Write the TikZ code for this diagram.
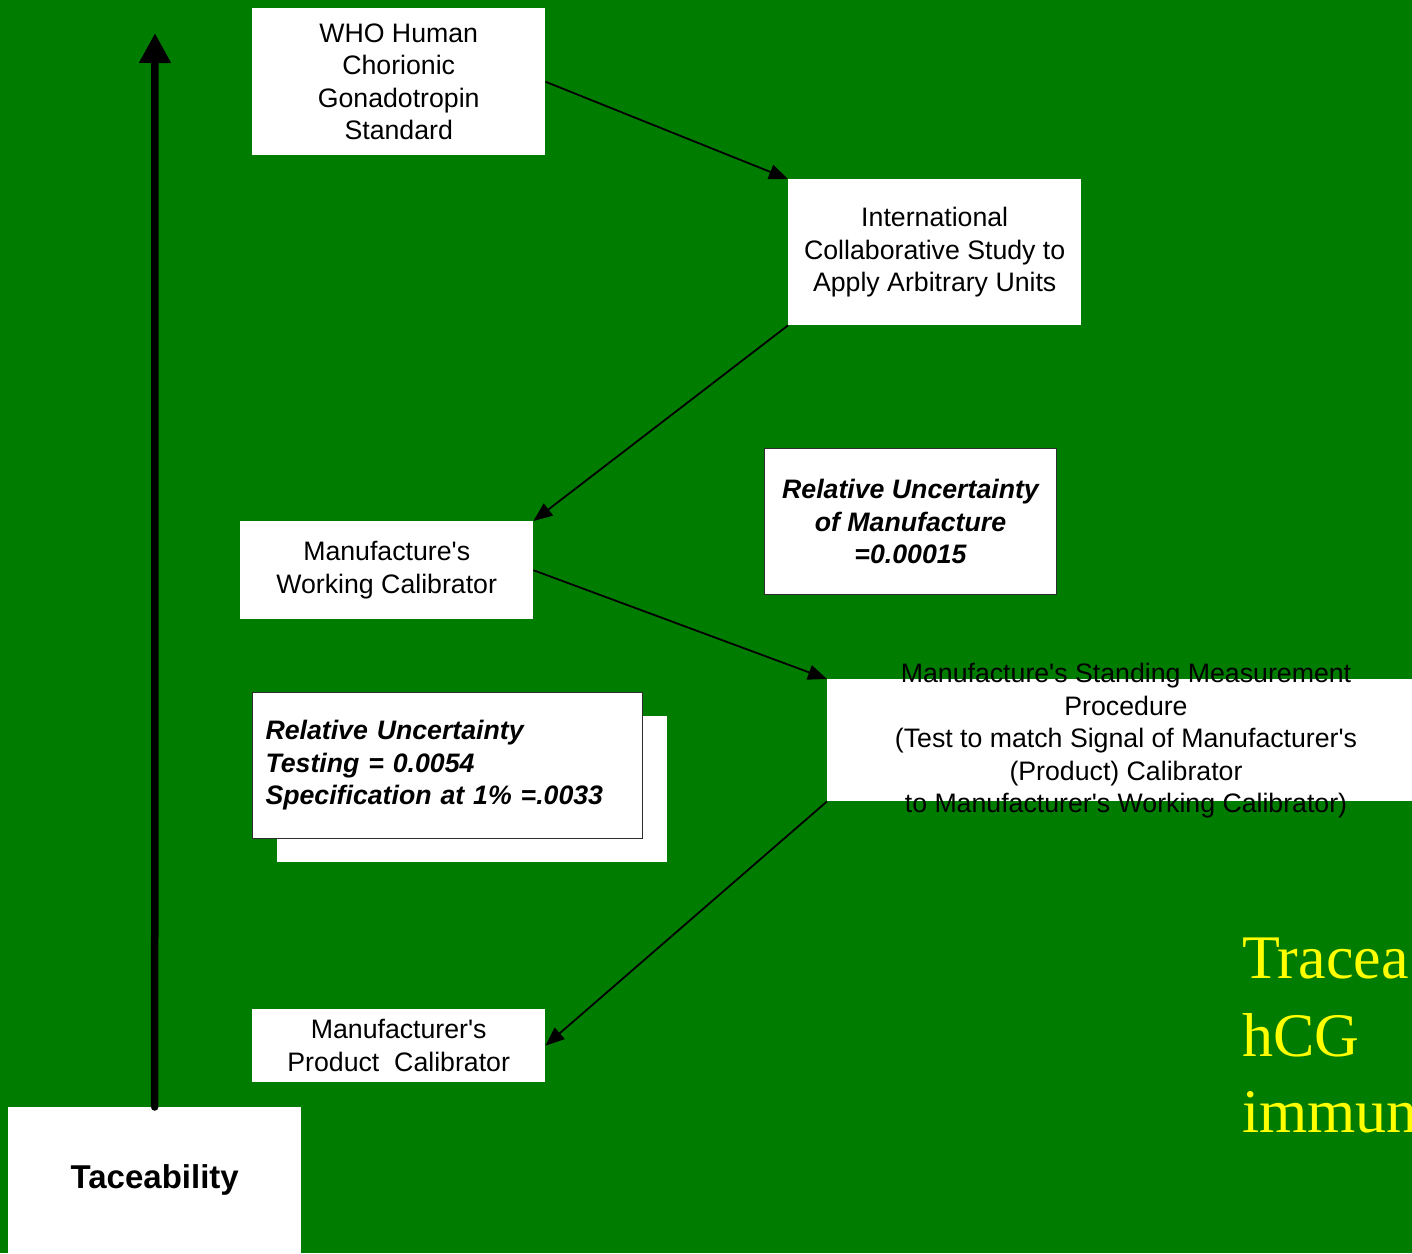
\documentclass[tikz,border=0pt]{standalone}
\usepackage{fontspec}
\setmainfont{Liberation Sans}
\newfontfamily\timesfont{Liberation Serif}
\usetikzlibrary{arrows.meta,calc}
\definecolor{bggreen}{RGB}{0,125,0}
\definecolor{ylw}{RGB}{255,255,0}
\definecolor{boxline}{RGB}{45,45,45}
\newcommand{\ap}{\textquotesingle}
\begin{document}
\begin{tikzpicture}[x=1pt,y=-1pt,
  txt/.style={font=\fontsize{26.7}{32.5}\selectfont},
  bitxt/.style={font=\fontsize{26.7}{32.5}\selectfont\bfseries\itshape},
  wbox/.style={fill=white, draw=none, inner sep=0pt, align=center, anchor=north west},
  rbox/.style={fill=white, draw=boxline, line width=1pt, inner sep=0pt, anchor=north west},
  conn/.style={line width=1.8pt, -{Triangle[length=19pt,width=15pt]}},
  bigarrow/.style={line width=7.5pt, line cap=round, -{Triangle[length=30pt,width=30pt]}}]
\clip (0,0) rectangle (1412,1253);
\fill[bggreen] (0,0) rectangle (1412,1253);

% boxes
\node[wbox, txt, minimum width=293pt, minimum height=147pt] (who) at (252,8)
  {WHO Human\\Chorionic\\Gonadotropin\\Standard};
\node[wbox, txt, minimum width=293pt, minimum height=146pt] (intl) at (788,179)
  {International\\Collaborative Study to\\Apply Arbitrary Units};
\node[rbox, bitxt, align=center, minimum width=292pt, minimum height=146pt] (relm) at (764,448)
  {Relative Uncertainty\\of Manufacture\\=0.00015};
\node[wbox, txt, minimum width=293pt, minimum height=98pt] (work) at (240,521)
  {Manufacture\ap s\\Working Calibrator};

% relative uncertainty testing box with offset copy behind
\fill[white] (277,716) rectangle (667,862);
\node[rbox, bitxt, align=left, text width=364pt, minimum width=390pt, minimum height=146pt,
      inner xsep=13pt] (relt) at (252,692)
  {Relative Uncertainty\\Testing = 0.0054\\Specification at 1\% =.0033};

\node[wbox, minimum width=600pt, minimum height=122pt] (stand) at (827,679) {};
\node[txt, align=center, inner sep=0pt] (standtxt) at (1126,741)
  {Manufacture\ap s Standing Measurement\\Procedure\\(Test to match Signal of Manufacturer\ap s\\(Product) Calibrator\\to Manufacturer\ap s Working Calibrator)};

\node[wbox, txt, minimum width=293pt, minimum height=73pt] (prod) at (252,1009)
  {Manufacturer\ap s\\Product\ \ Calibrator};

\node[wbox, font=\fontsize{33}{39}\selectfont\bfseries, minimum width=293pt, minimum height=146pt] (trace) at (8,1107)
  {Taceability};

% connectors
\draw[conn] (who.east) -- (intl.north west);
\draw[conn] (intl.south west) -- (work.north east);
\draw[conn] (work.east) -- (stand.north west);
\draw[conn] (stand.south west) -- (prod.east);

% big traceability arrow
\coordinate (top) at (155,33);
\draw[bigarrow] (trace.north) -- (top);

% title text (cut at right edge, as in the reference)
\node[anchor=base west, inner sep=0pt, text=ylw, font=\timesfont\fontsize{62}{77}\selectfont] (t1) at (1242,978) {Tracea};
\node[anchor=base west, inner sep=0pt, text=ylw, font=\timesfont\fontsize{62}{77}\selectfont] (t2) at (1242,1056) {hCG};
\node[anchor=base west, inner sep=0pt, text=ylw, font=\timesfont\fontsize{62}{77}\selectfont] (t3) at (1242,1132) {immun};
\end{tikzpicture}
\end{document}
